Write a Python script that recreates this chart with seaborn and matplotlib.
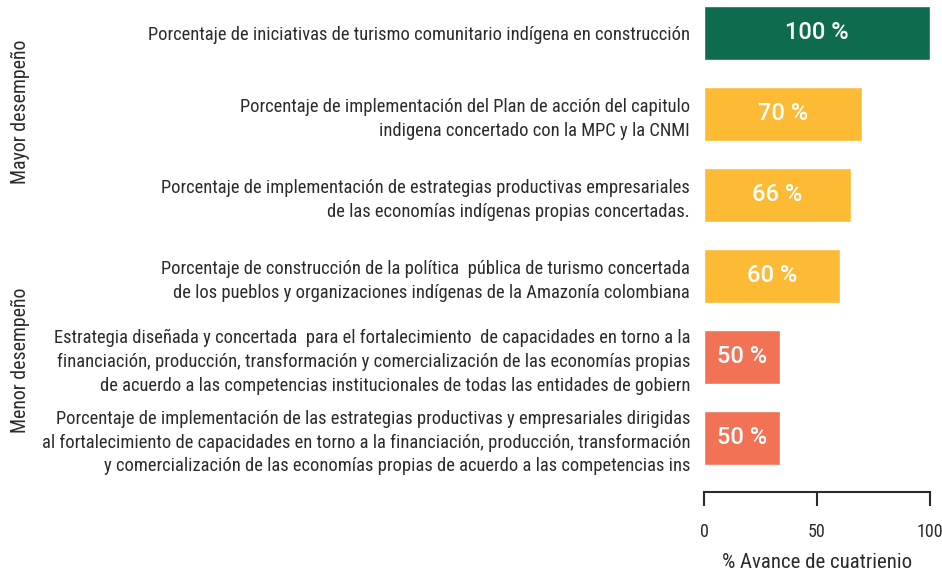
import matplotlib
matplotlib.use("Agg")
import matplotlib.pyplot as plt
import pandas as pd
import seaborn as sns

indicators = [
    "Porcentaje de iniciativas de turismo comunitario indígena en construcción",
    "Porcentaje de implementación del Plan de acción del capitulo\nindigena concertado con la MPC y la CNMI",
    "Porcentaje de implementación de estrategias productivas empresariales\nde las economías indígenas propias concertadas.",
    "Porcentaje de construcción de la política  pública de turismo concertada\nde los pueblos y organizaciones indígenas de la Amazonía colombiana",
    "Estrategia diseñada y concertada  para el fortalecimiento  de capacidades en torno a la\nfinanciación, producción, transformación y comercialización de las economías propias\nde acuerdo a las competencias institucionales de todas las entidades de gobiern",
    "Porcentaje de implementación de las estrategias productivas y empresariales dirigidas\nal fortalecimiento de capacidades en torno a la financiación, producción, transformación\ny comercialización de las economías propias de acuerdo a las competencias ins",
]
bar_lengths = [100, 70, 65, 60, 33.5, 33.5]
value_labels = ["100 %", "70 %", "66 %", "60 %", "50 %", "50 %"]
bar_colors = ["#0f6b4f", "#fdba35", "#fdba35", "#fdba35", "#f27256", "#f27256"]

sns.set_theme(style="white")
plt.rcParams["font.family"] = ["Roboto Condensed", "Liberation Sans Narrow", "Roboto", "DejaVu Sans"]
text_color = "#2b2b2b"

df = pd.DataFrame({"indicator": indicators, "avance": bar_lengths})

fig = plt.figure(figsize=(9.42, 5.73), dpi=100)
ax = fig.add_axes([704 / 942, 81 / 573, 226 / 942, 492 / 573])
sns.barplot(
    data=df, x="avance", y="indicator", hue="indicator",
    palette=bar_colors, width=0.667, legend=False, ax=ax, saturation=1,
)
ax.set_xlim(0, 100)
ax.set_ylim(5.667, -0.407)
ax.set_xticks([0, 50, 100])
ax.tick_params(axis="x", bottom=True, direction="out", length=10, width=1.5,
               color=text_color, pad=12, labelsize=13, labelcolor=text_color)
ax.tick_params(axis="y", length=0, pad=10, labelsize=13.3, labelcolor=text_color)
for lab in ax.get_yticklabels():
    lab.set_horizontalalignment("right")
    lab.set_multialignment("right")
    lab.set_linespacing(1.4)
for side in ["top", "right", "left"]:
    ax.spines[side].set_visible(False)
ax.spines["bottom"].set_linewidth(1.5)
ax.spines["bottom"].set_color(text_color)
ax.set_ylabel("")
ax.set_xlabel("% Avance de cuatrienio", fontsize=15, color=text_color, labelpad=9)

for i, (length, text) in enumerate(zip(bar_lengths, value_labels)):
    ax.text(length / 2, i, text, ha="center", va="center", color="white",
            fontsize=17, fontweight="medium", family=["Roboto", "DejaVu Sans"])

fig.text(20 / 942, 1 - 112 / 573, "Mayor desempeño", rotation=90, ha="center",
         va="center", fontsize=14.3, color=text_color)
fig.text(20 / 942, 1 - 360 / 573, "Menor desempeño", rotation=90, ha="center",
         va="center", fontsize=14.3, color=text_color)

fig.savefig("out.png", dpi=100)
